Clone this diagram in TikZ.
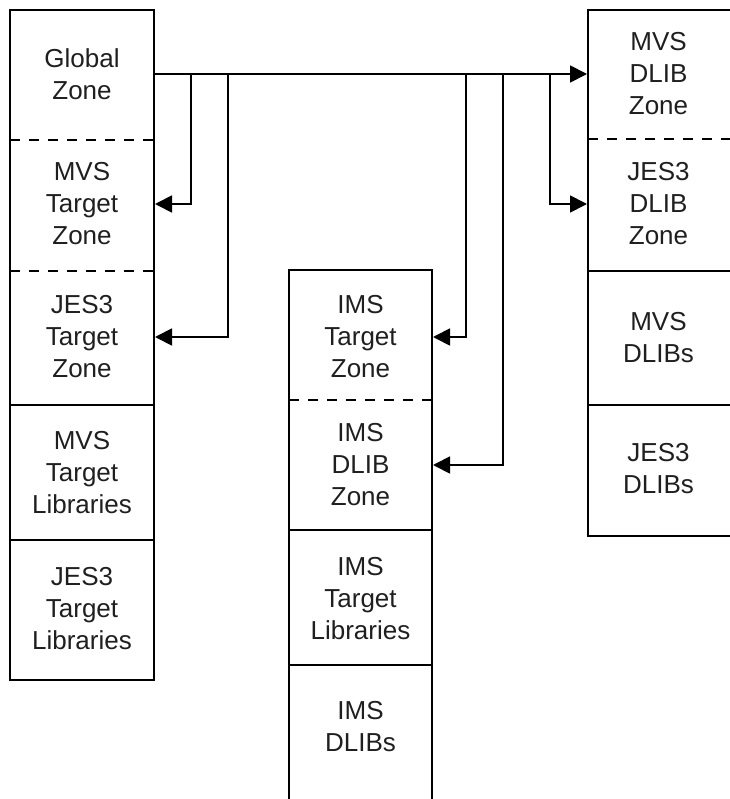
\documentclass[tikz,border=0pt]{standalone}
\usepackage{fontspec}
\setmainfont{Liberation Sans}
\usetikzlibrary{arrows.meta}
\begin{document}
\begin{tikzpicture}[x=1pt,y=-1pt,line width=2pt,
  sec/.style={inner sep=0pt,align=center,font=\fontsize{26}{32}\selectfont,text=black!88},
  lsec/.style={sec,minimum width=144pt},
  msec/.style={sec,minimum width=143pt},
  rsec/.style={sec,minimum width=141pt},
  arr/.style={-{Triangle[length=17pt,width=17pt]},line width=1.8pt},
  dsh/.style={dash pattern=on 10pt off 9pt}]
\useasboundingbox (0,0) rectangle (729,799);
% column outlines
\draw (10,10) rectangle (154,680);
\draw[dsh] (10,140) -- (154,140);
\draw[dsh] (10,271) -- (154,271);
\draw (10,405) -- (154,405);
\draw (10,540) -- (154,540);
\draw (289,800) -- (289,270) -- (432,270) -- (432,800);
\draw[dsh] (289,400) -- (432,400);
\draw (289,530) -- (432,530);
\draw (289,665) -- (432,665);
\draw (731,10) -- (588,10) -- (588,536) -- (731,536);
\draw[dsh] (588,139) -- (731,139);
\draw (588,271) -- (731,271);
\draw (588,405) -- (731,405);
% sections
\node[lsec] (global) at (82,74) {Global\\Zone};
\node[lsec] (mvstz) at (82,204) {MVS\\Target\\Zone};
\node[lsec] (jestz) at (82,337) {JES3\\Target\\Zone};
\node[lsec] (mvstl) at (82,473) {MVS\\Target\\Libraries};
\node[lsec] (jestl) at (82,609) {JES3\\Target\\Libraries};
\node[msec] (imstz) at (360.5,337) {IMS\\Target\\Zone};
\node[msec] (imsdz) at (360.5,465) {IMS\\DLIB\\Zone};
\node[msec] (imstl) at (360.5,599) {IMS\\Target\\Libraries};
\node[msec] (imsdl) at (360.5,727) {IMS\\DLIBs};
\node[rsec] (mvsdz) at (658.5,74) {MVS\\DLIB\\Zone};
\node[rsec] (jesdz) at (658.5,204) {JES3\\DLIB\\Zone};
\node[rsec] (mvsdl) at (658.5,338) {MVS\\DLIBs};
\node[rsec] (jesdl) at (658.5,469) {JES3\\DLIBs};
% branch points on trunk
\coordinate (b1) at (191,74);
\coordinate (b2) at (228,74);
\coordinate (b3) at (466,74);
\coordinate (b4) at (503,74);
\coordinate (b5) at (550,74);
% connectors
\draw[arr] (global.east) -- (mvsdz.west);
\draw[arr] (b1) |- (mvstz.east);
\draw[arr] (b2) |- (jestz.east);
\draw[arr] (b3) |- (imstz.east);
\draw[arr] (b4) |- (imsdz.east);
\draw[arr] (b5) |- (jesdz.west);
\end{tikzpicture}
\end{document}
